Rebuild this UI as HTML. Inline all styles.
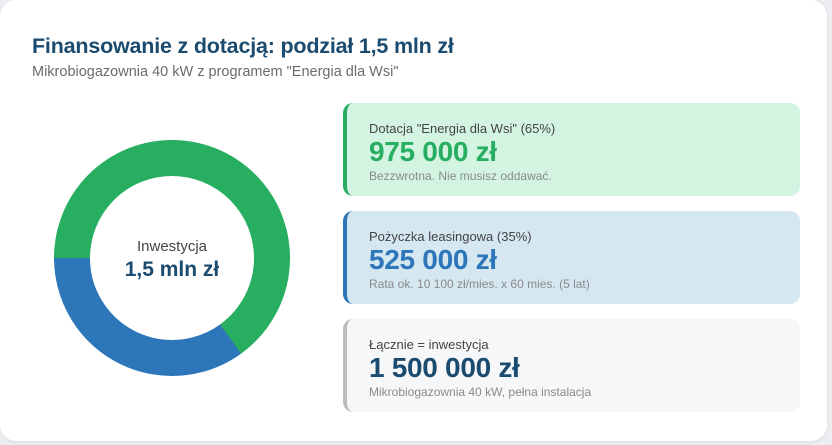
<!DOCTYPE html>
<html><head><meta charset="utf-8"><style>
html,body{margin:0;padding:0;width:832px;height:445px;overflow:hidden;background:#eceef1;font-family:"Liberation Sans",sans-serif}
.card{position:absolute;left:0;top:0;width:827px;height:441px;background:#fff;border-radius:16px;box-shadow:0 1px 4px rgba(0,0,0,0.08)}
h1{position:absolute;left:32px;top:34px;margin:0;font-size:21.5px;font-weight:bold;color:#1b4b6f;letter-spacing:-0.2px}
.sub{position:absolute;left:32px;top:64px;font-size:14.5px;color:#6b6b6b}
.box{position:absolute;left:343px;width:457px;height:93px;border-radius:10px;border-left:4px solid;box-sizing:border-box;padding-left:22px}
.lab{position:absolute;top:18px;font-size:13px;color:#444}
.val{position:absolute;top:33px;font-size:28px;font-weight:bold;letter-spacing:-0.3px}
.note{position:absolute;top:66px;font-size:12px;color:#8a8a8a}
</style></head><body>
<div class="card">
<h1>Finansowanie z dotacją: podział 1,5 mln zł</h1>
<div class="sub">Mikrobiogazownia 40 kW z programem "Energia dla Wsi"</div>
<svg style="position:absolute;left:0;top:0" width="340" height="445">
<circle cx="172" cy="258" r="100" fill="none" stroke="#2d76b9" stroke-width="36" stroke-dasharray="219.9 1000" transform="rotate(54 172 258)"/>
<circle cx="172" cy="258" r="100" fill="none" stroke="#27ae60" stroke-width="36" stroke-dasharray="408.4 1000" transform="rotate(180 172 258)"/>
<text x="172" y="251" text-anchor="middle" font-size="15" fill="#444" font-family="Liberation Sans">Inwestycja</text>
<text x="172" y="276" text-anchor="middle" font-size="21" font-weight="bold" fill="#1b4b6f" font-family="Liberation Sans">1,5 mln zł</text>
</svg>
<div class="box" style="top:103px;background:#d4f4e2;border-color:#27ae60">
<div class="lab">Dotacja "Energia dla Wsi" (65%)</div>
<div class="val" style="color:#27ae60">975 000 zł</div>
<div class="note">Bezzwrotna. Nie musisz oddawać.</div></div>
<div class="box" style="top:211px;background:#d5e7f1;border-color:#2d76b9">
<div class="lab">Pożyczka leasingowa (35%)</div>
<div class="val" style="color:#2d76b9">525 000 zł</div>
<div class="note">Rata ok. 10 100 zł/mies. x 60 mies. (5 lat)</div></div>
<div class="box" style="top:319px;background:#f5f7f9;border-color:#bdbdbd">
<div class="lab">Łącznie = inwestycja</div>
<div class="val" style="color:#1b4b6f">1 500 000 zł</div>
<div class="note">Mikrobiogazownia 40 kW, pełna instalacja</div></div>
</div>
</body></html>
